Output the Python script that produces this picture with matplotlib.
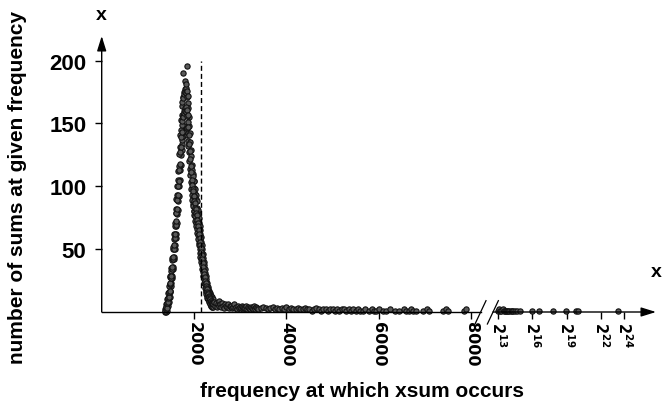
import numpy as np
import matplotlib
matplotlib.use('Agg')
from matplotlib import pyplot as plt
from matplotlib.scale import FuncScale

plt.rcParams['font.family'] = ['Liberation Sans', 'DejaVu Sans']
plt.rcParams['font.weight'] = 'bold'
plt.rcParams['mathtext.fontset'] = 'dejavusans'

# main peak: centre of the cloud and its lower/upper edge, every 10 units from 1380 to 2400
peak_x = np.arange(1380, 2410, 10)
peak_y = [1, 2, 4, 3, 7, 8, 11, 12, 16, 17,
          22, 23, 27, 29, 34, 36, 42, 44, 50, 53,
          59, 62, 69, 72, 79, 82, 89, 93, 100, 104,
          113, 118, 127, 131, 139, 143, 149, 152, 156, 155,
          160, 158, 162, 160, 163, 159, 161, 156, 157, 151,
          147, 141, 134, 128, 122, 116, 111, 105, 101, 98,
          96, 92, 92, 88, 87, 83, 82, 79, 77, 73,
          71, 68, 65, 62, 59, 56, 53, 51, 48, 45,
          42, 39, 36, 33, 30, 28, 25, 23, 21, 19,
          18, 16, 15, 14, 13, 12, 11, 10, 9, 9,
          8, 7, 7]
peak_lo = [0, 0, 2, 1, 4, 5, 7, 8, 11, 12,
           16, 17, 21, 23, 27, 29, 34, 36, 42, 44,
           50, 53, 59, 62, 68, 71, 78, 81, 88, 92,
           100, 105, 113, 117, 125, 129, 134, 137, 141, 140,
           145, 143, 147, 145, 148, 144, 146, 141, 142, 136,
           132, 127, 120, 114, 109, 103, 98, 93, 89, 86,
           84, 80, 80, 77, 76, 72, 71, 68, 66, 63,
           61, 58, 55, 53, 50, 47, 44, 42, 40, 37,
           34, 32, 29, 26, 23, 22, 19, 17, 16, 14,
           13, 11, 10, 10, 9, 8, 7, 6, 5, 5,
           4, 4, 4]
peak_hi = [2, 4, 6, 6, 10, 11, 15, 16, 21, 22,
           28, 29, 33, 35, 41, 43, 50, 52, 58, 62,
           68, 71, 79, 82, 90, 93, 100, 105, 112, 116,
           126, 131, 141, 145, 153, 157, 164, 167, 171, 170,
           175, 173, 177, 175, 178, 174, 176, 171, 172, 166,
           162, 155, 148, 142, 135, 129, 124, 117, 113, 110,
           108, 104, 104, 99, 98, 94, 93, 90, 88, 83,
           81, 78, 75, 71, 68, 65, 62, 60, 56, 53,
           50, 46, 43, 40, 37, 34, 31, 29, 26, 24,
           23, 21, 20, 18, 17, 16, 15, 14, 13, 13,
           12, 10, 10]
# a few stray points above the peak
top_x = [1761, 1813, 1835, 1848]
top_y = [190, 184, 181, 196]

# dense start of the tail, every 20 units from 2410 to 3390
near_x = np.arange(2410, 3400, 20)
near_y = [6, 8, 5, 7, 4, 6, 9, 5, 6, 4,
          7, 5, 3, 6, 5, 4, 6, 3, 5, 4,
          5, 3, 4, 6, 3, 4, 2, 5, 3, 4,
          3, 5, 2, 4, 3, 3, 5, 2, 4, 3,
          2, 4, 3, 2, 5, 3, 2, 4, 3, 2]

# thinner tail up to the break
tail_x = [3450, 3500, 3550, 3600, 3650, 3700, 3750, 3800, 3850, 3900,
          3950, 4000, 4050, 4100, 4150, 4200, 4250, 4300, 4350, 4400,
          4450, 4500, 4550, 4600, 4650, 4700, 4750, 4800, 4850, 4900,
          4950, 5000, 5050, 5100, 5150, 5200, 5250, 5300, 5350, 5400,
          5450, 5500, 5550, 5600, 5650, 5700, 5800, 5850, 5900, 5950,
          6000, 6100, 6150, 6250, 6350, 6450, 6550, 6600, 6650, 6700,
          6750, 6800, 6950, 7050, 7100, 7400, 7450, 7500, 7850, 7900]
tail_y = [3, 4, 3, 2, 3, 4, 2, 3, 2, 3,
          2, 4, 2, 3, 2, 2, 3, 2, 2, 3,
          2, 2, 1, 2, 3, 2, 1, 2, 2, 1,
          2, 2, 1, 2, 1, 2, 2, 1, 2, 1,
          2, 1, 2, 1, 1, 2, 1, 2, 1, 1,
          2, 1, 1, 2, 1, 1, 2, 1, 1, 2,
          1, 1, 1, 2, 1, 1, 2, 1, 1, 2]

# points past the break, given as powers of two
far_exp = [13.0, 13.1, 13.2, 13.3, 13.4, 13.5, 13.6, 13.7, 13.8, 13.9,
           14.0, 14.1, 14.2, 14.3, 14.5, 14.7, 14.9, 16.0, 16.6, 17.8,
           18.9, 19.8, 20.0, 23.5]
far_y = [1, 2, 1, 1, 2, 1, 1, 1, 1, 1,
         1, 1, 1, 1, 1, 1, 1, 1, 1, 1,
         1, 1, 1, 1]

lin_ticks = [2000, 4000, 6000, 8000]
pow_ticks = [13, 16, 19, 22, 24]
y_ticks = [50, 100, 150, 200]
cutoff = 2150

brk = 8100
p13 = 8584.0
per_oct = 248.0


def fwd(x):
    x = np.asarray(x, dtype=float)
    lg = np.log2(np.maximum(x, brk))
    return np.where(x <= brk, x, p13 + (lg - 13) * per_oct)


def inv(p):
    p = np.asarray(p, dtype=float)
    return np.where(p <= brk, p, 2.0 ** ((np.maximum(p, 8580) - p13) / per_oct + 13))


fig = plt.figure(figsize=(6.68, 4.02), dpi=100)
ax = fig.add_axes([101.7 / 668, 89 / 402, 554.3 / 668, 276 / 402])
ax.set_xscale(FuncScale(ax, (fwd, inv)))

mk = dict(ls='none', marker='o', ms=3.8, mfc='#5a5a5a', mec='#111111', mew=0.8, clip_on=False)
for ys in (peak_lo, peak_hi, peak_y):
    ax.plot(peak_x, ys, **mk)
ax.plot(top_x, top_y, **mk)
ax.plot(near_x, near_y, **mk)
ax.plot(tail_x, tail_y, **mk)
ax.plot(2.0 ** np.asarray(far_exp), far_y, **mk)

ax.plot([cutoff, cutoff], [0, 200], color='k', lw=1, dashes=(3.6, 2.2))

ax.set_xlim(0, 2.0 ** 26.8)
ax.set_ylim(0, 219.5)

for s in ax.spines.values():
    s.set_visible(False)

# axes drawn by hand: arrow heads and the break
head = '-|>,head_length=0.9,head_width=0.28'
ax.annotate('', xy=(0, 1), xytext=(0, 0), xycoords='axes fraction',
            arrowprops=dict(arrowstyle=head, lw=1, color='k', shrinkA=0, shrinkB=0),
            annotation_clip=False)
ax.annotate('', xy=(1, 0), xytext=(0.7059, 0), xycoords='axes fraction',
            arrowprops=dict(arrowstyle=head, lw=1, color='k', shrinkA=0, shrinkB=0),
            annotation_clip=False)
ax.plot([0, 0.6834], [0, 0], color='k', lw=1, transform=ax.transAxes, clip_on=False)
ax.plot([0.6735, 0.6933], [-0.0435, 0.041], color='k', lw=0.9, transform=ax.transAxes, clip_on=False)
ax.plot([0.6958, 0.7156], [-0.0435, 0.041], color='k', lw=0.9, transform=ax.transAxes, clip_on=False)

xt = lin_ticks + [2.0 ** e for e in pow_ticks]
xl = [str(v) for v in lin_ticks] + [r'$\mathbf{2^{%d}}$' % e for e in pow_ticks]
ax.set_xticks(xt)
ax.set_xticklabels(xl, rotation=-90)
for i, t in enumerate(ax.get_xticklabels()):
    t.set_family('DejaVu Sans')
    t.set_fontweight('bold')
    t.set_fontsize(11.5 if i < len(lin_ticks) else 10.5)
ax.set_yticks(y_ticks)
ax.set_yticklabels([str(v) for v in y_ticks], fontsize=16, fontweight='bold')
ax.tick_params(axis='both', direction='out', length=5, width=1)
ax.tick_params(axis='x', pad=1.5)
ax.tick_params(axis='y', pad=6)

fig.text(362 / 668, 1 - 391.5 / 402, 'frequency at which xsum occurs', fontsize=15,
         fontweight='bold', ha='center', va='center')
fig.text(17.5 / 668, 1 - 188 / 402, 'number of sums at given frequency', fontsize=15,
         fontweight='bold', ha='center', va='center', rotation=90)
fig.text(101 / 668, 1 - 16 / 402, 'x', fontsize=14, fontweight='bold', ha='center', va='center')
fig.text(656 / 668, 1 - 273 / 402, 'x', fontsize=14, fontweight='bold', ha='center', va='center')

fig.savefig('out.png', dpi=100)
